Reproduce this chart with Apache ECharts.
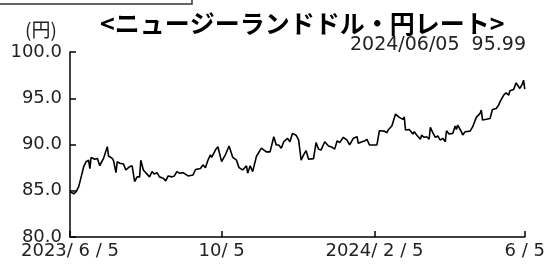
<!DOCTYPE html>
<html>
<head>
<meta charset="utf-8">
<script src="https://cdn.jsdelivr.net/npm/echarts@6/dist/echarts.min.js"></script>
<style>
  html, body { margin: 0; padding: 0; background: #fff; }
  #main { width: 548px; height: 267px; }
</style>
</head>
<body>
<div id="main"></div>
<script>
var FONT = '"Noto Sans CJK JP", "Noto Sans", sans-serif';
var NUM_FONT = '"DejaVu Sans", "Noto Sans CJK JP", sans-serif';

// NZD/JPY rate
var dates = [
  '2023-06-05', '2023-06-08', '2023-06-10', '2023-06-12', '2023-06-14', '2023-06-16', '2023-06-18', '2023-06-20',
  '2023-06-21', '2023-06-22', '2023-06-25', '2023-06-27', '2023-06-29', '2023-06-30', '2023-07-02', '2023-07-05',
  '2023-07-06', '2023-07-09', '2023-07-10', '2023-07-12', '2023-07-13', '2023-07-15', '2023-07-18', '2023-07-20',
  '2023-07-23', '2023-07-25', '2023-07-27', '2023-07-29', '2023-07-31', '2023-08-01', '2023-08-03', '2023-08-06',
  '2023-08-08', '2023-08-10', '2023-08-12', '2023-08-14', '2023-08-16', '2023-08-19', '2023-08-21', '2023-08-23',
  '2023-08-26', '2023-08-28', '2023-08-30', '2023-09-01', '2023-09-04', '2023-09-08', '2023-09-12', '2023-09-14',
  '2023-09-18', '2023-09-20', '2023-09-22', '2023-09-24', '2023-09-26', '2023-09-27', '2023-09-30', '2023-10-02',
  '2023-10-05', '2023-10-08', '2023-10-11', '2023-10-14', '2023-10-17', '2023-10-19', '2023-10-22', '2023-10-25',
  '2023-10-26', '2023-10-28', '2023-10-30', '2023-11-02', '2023-11-06', '2023-11-10', '2023-11-13', '2023-11-16',
  '2023-11-18', '2023-11-20', '2023-11-22', '2023-11-24', '2023-11-27', '2023-11-29', '2023-12-01', '2023-12-04',
  '2023-12-06', '2023-12-08', '2023-12-10', '2023-12-12', '2023-12-14', '2023-12-18', '2023-12-20', '2023-12-22',
  '2023-12-24', '2023-12-27', '2023-12-30', '2024-01-02', '2024-01-04', '2024-01-06', '2024-01-08', '2024-01-11',
  '2024-01-14', '2024-01-16', '2024-01-19', '2024-01-22', '2024-01-23', '2024-01-26', '2024-01-28', '2024-01-30',
  '2024-02-01', '2024-02-07', '2024-02-09', '2024-02-13', '2024-02-15', '2024-02-16', '2024-02-19', '2024-02-22',
  '2024-02-25', '2024-02-28', '2024-02-29', '2024-03-01', '2024-03-04', '2024-03-05', '2024-03-07', '2024-03-08',
  '2024-03-10', '2024-03-13', '2024-03-14', '2024-03-16', '2024-03-18', '2024-03-20', '2024-03-21', '2024-03-23',
  '2024-03-25', '2024-03-27', '2024-03-29', '2024-03-31', '2024-04-02', '2024-04-03', '2024-04-05', '2024-04-08',
  '2024-04-10', '2024-04-11', '2024-04-12', '2024-04-15', '2024-04-16', '2024-04-18', '2024-04-22', '2024-04-24',
  '2024-04-27', '2024-04-30', '2024-05-01', '2024-05-02', '2024-05-05', '2024-05-08', '2024-05-10', '2024-05-13',
  '2024-05-15', '2024-05-16', '2024-05-19', '2024-05-21', '2024-05-23', '2024-05-24', '2024-05-27', '2024-05-29',
  '2024-05-30', '2024-06-01', '2024-06-03', '2024-06-04', '2024-06-05'
];
var rates = [
  84.91, 84.67, 84.90, 85.45, 86.50, 87.60, 88.15, 88.30,
  87.40, 88.60, 88.40, 88.50, 87.70, 88.00, 88.50, 89.76,
  88.76, 88.50, 88.25, 86.96, 88.15, 87.97, 87.90, 87.25,
  87.60, 87.70, 86.00, 86.50, 86.50, 88.30, 87.25, 86.80,
  86.50, 87.07, 86.80, 86.96, 86.50, 86.36, 86.07, 86.60,
  86.50, 86.60, 87.07, 86.90, 86.96, 86.60, 86.70, 87.30,
  87.40, 87.80, 87.50, 88.30, 88.87, 88.60, 89.40, 89.76,
  88.15, 88.87, 89.84, 88.60, 88.30, 87.50, 87.25, 87.70,
  86.90, 87.70, 87.07, 88.70, 89.60, 89.20, 89.20, 90.84,
  89.95, 89.95, 89.60, 90.30, 90.67, 90.30, 91.20, 91.00,
  90.48, 88.30, 88.87, 89.33, 88.40, 88.47, 90.20, 89.50,
  89.40, 90.30, 89.84, 89.70, 89.50, 90.40, 90.20, 90.78,
  90.48, 89.95, 90.67, 90.84, 90.13, 90.30, 90.37, 90.56,
  89.95, 89.95, 91.49, 91.45, 91.27, 91.56, 92.00, 93.29,
  92.93, 92.72, 93.00, 91.56, 91.63, 91.74, 91.13, 91.38,
  91.02, 90.56, 91.02, 90.78, 90.84, 90.59, 91.85, 91.27,
  90.78, 90.92, 90.48, 90.67, 90.30, 91.49, 91.13, 91.20,
  92.00, 91.63, 92.10, 91.38, 91.02, 91.38, 91.45, 91.90,
  92.93, 93.36, 93.72, 92.64, 92.72, 92.82, 93.79, 93.90,
  94.26, 94.61, 95.33, 95.58, 95.33, 95.80, 95.95, 96.66,
  96.52, 96.06, 96.52, 96.95, 95.99
];
var tickDates = ['2023-06-05', '2023-10-05', '2024-02-05', '2024-06-05'];
var tickLabels = ['2023/ 6 / 5', '10/ 5', '2024/ 2 / 5', '6 / 5'];

function ts(s) {
  var p = s.split('-');
  return Date.UTC(+p[0], +p[1] - 1, +p[2]);
}

var seriesData = dates.map(function (d, i) { return [ts(d), rates[i]]; });
var tickTs = tickDates.map(ts);
var labelMap = {};
tickTs.forEach(function (t, i) { labelMap[t] = tickLabels[i]; });

var chart = echarts.init(document.getElementById('main'), null, { renderer: 'canvas' });

var option = {
  backgroundColor: '#ffffff',
  animation: false,
  grid: { left: 70, right: 23, top: 52, bottom: 30, containLabel: false },
  xAxis: {
    type: 'value',
    min: tickTs[0],
    max: tickTs[tickTs.length - 1],
    splitLine: { show: false },
    axisLine: { lineStyle: { color: '#000', width: 1.5 } },
    axisTick: {
      inside: true, length: 6,
      customValues: tickTs,
      lineStyle: { color: '#000', width: 1.5 }
    },
    axisLabel: {
      customValues: tickTs,
      formatter: function (v) { return labelMap[v] || ''; },
      color: '#222', fontSize: 18, fontFamily: NUM_FONT, margin: 5
    }
  },
  yAxis: {
    type: 'value',
    min: 80, max: 100, interval: 5,
    splitLine: { show: false },
    axisLine: { show: true, lineStyle: { color: '#000', width: 1.5 } },
    axisTick: { show: true, inside: true, length: 6, lineStyle: { color: '#000', width: 1.5 } },
    axisLabel: {
      formatter: function (v) { return v.toFixed(1); },
      color: '#222', fontSize: 18, fontFamily: NUM_FONT, margin: 8
    }
  },
  series: [{
    type: 'line',
    data: seriesData,
    showSymbol: false,
    lineStyle: { color: '#000', width: 1.6 },
    silent: true
  }],
  graphic: [
    {
      type: 'rect', silent: true,
      shape: { x: -2, y: -12, width: 194, height: 16 },
      style: { fill: 'none', stroke: '#333', lineWidth: 1.5 }
    },
    {
      type: 'text', left: 100, top: 11, silent: true,
      style: {
        text: '<ニュージーランドドル・円レート>',
        fill: '#000', font: 'bold 25px ' + FONT
      }
    },
    {
      type: 'text', right: 22, top: 36, silent: true,
      style: { text: '2024/06/05  95.99', fill: '#222', font: '19px ' + NUM_FONT }
    },
    {
      type: 'text', left: 25, top: 20, silent: true,
      style: { text: '(円)', fill: '#222', font: '19px ' + FONT }
    }
  ]
};

chart.setOption(option);
</script>
</body>
</html>
